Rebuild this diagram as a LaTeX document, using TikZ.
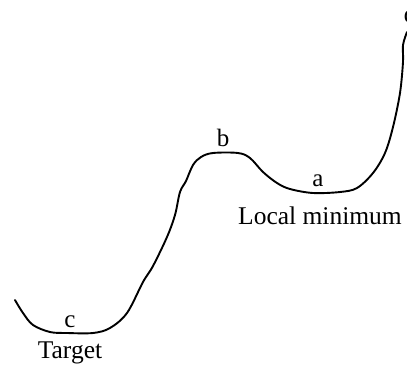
\documentclass[tikz,border=0pt]{standalone}
\usepackage{fontspec}
\setmainfont{Liberation Serif}
\usepackage{tikz}
\usetikzlibrary{positioning}
\tikzset{
  landscape/.style={line width=1.9pt, draw=black, line cap=round, line join=round},
  pointlabel/.style={font=\fontsize{25}{29}\selectfont, inner sep=0pt, anchor=base},
  regionlabel/.style={font=\fontsize{25.5}{29}\selectfont, inner sep=0pt, anchor=base}
}
\begin{document}
\begin{tikzpicture}[x=1pt,y=-1pt]
\useasboundingbox (0,0) rectangle (407,365);

% energy landscape
\draw[landscape] plot[smooth, tension=0.55] coordinates {
  (15,300) (23,313) (33,325) (50,332) (67,333) (93,333) (110,328) (127,313)
  (143,282) (153,266) (167,237) (175,215) (180,192) (186,181) (193,165)
  (201,157) (213,153) (238,153) (250,158) (263,172) (277,183) (290,189)
  (313,193) (340,192) (357,188) (373,173) (385,153) (393,127) (400,93)
  (403,62) (403,45) (407,32)};

% labels
\node[pointlabel] (c) at (70,327) {c};
\node[regionlabel] (target) at (70,358) {Target};
\node[pointlabel] (b) at (223,146) {b};
\node[pointlabel] (a) at (318,186) {a};
\node[regionlabel] (localmin) at (320,224) {Local minimum};
\node[pointlabel] (d) at (410,22) {d};
\end{tikzpicture}
\end{document}
